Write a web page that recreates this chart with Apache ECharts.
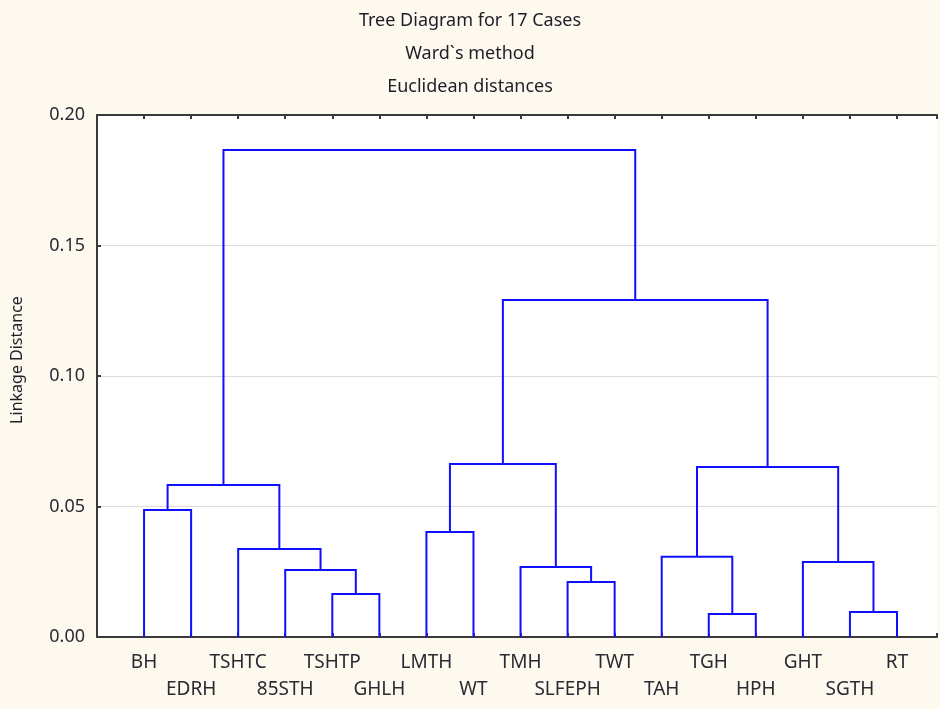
<!DOCTYPE html>
<html>
<head>
<meta charset="utf-8">
<script src="https://cdn.jsdelivr.net/npm/echarts@6/dist/echarts.min.js"></script>
<style>
  html, body { margin: 0; padding: 0; background: #fef9ee; }
  #chart { width: 940px; height: 709px; }
</style>
</head>
<body>
<div id="chart"></div>
<script>
// leaf order as shown on the axis
var leaves = ['BH', 'EDRH', 'TSHTC', '85STH', 'TSHTP', 'GHLH', 'LMTH', 'WT', 'TMH',
  'SLFEPH', 'TWT', 'TAH', 'TGH', 'HPH', 'GHT', 'SGTH', 'RT'];
// merge steps: [node a, node b, linkage distance]; new nodes numbered from 17
var mergeA = [12, 15, 4, 9, 3, 8, 14, 11, 2, 6, 0, 27, 24, 26, 30, 28];
var mergeB = [13, 16, 5, 10, 19, 20, 18, 17, 21, 7, 1, 25, 23, 22, 29, 31];
var mergeH = [0.0088, 0.0096, 0.0165, 0.0211, 0.0257, 0.0268, 0.0287, 0.0307,
  0.0337, 0.0402, 0.0487, 0.0582, 0.0651, 0.0663, 0.1291, 0.1866];
var yTicks = [0, 0.05, 0.10, 0.15, 0.20];

// node positions: leaves at their index, clusters at the midpoint of children
var nodeX = [], nodeY = [];
leaves.forEach(function (n, i) { nodeX.push(i); nodeY.push(0); });
var links = [];
for (var i = 0; i < mergeH.length; i++) {
  var a = mergeA[i], b = mergeB[i];
  links.push([nodeX[a], nodeY[a], nodeX[b], nodeY[b], mergeH[i]]);
  nodeX.push((nodeX[a] + nodeX[b]) / 2);
  nodeY.push(mergeH[i]);
}

var chart = echarts.init(document.getElementById('chart'));
var font = 'Noto Sans, Open Sans, sans-serif';
var axisCol = '#3a3a3a';
var option = {
  backgroundColor: '#fef9ee',
  title: {
    text: 'Tree Diagram for 17 Cases\nWard`s method\nEuclidean distances',
    left: 'center',
    top: -1,
    textStyle: { fontFamily: font, fontSize: 18, fontWeight: 'normal', color: '#1e1e28', lineHeight: 33 }
  },
  grid: {
    left: 97, right: 0, top: 115, bottom: 72,
    show: true, backgroundColor: '#ffffff', borderWidth: 0
  },
  xAxis: [{
    type: 'value', position: 'bottom', min: -1, max: 16.85, interval: 1,
    axisLine: { show: true, onZero: false, lineStyle: { color: axisCol, width: 2 } },
    axisTick: { show: true, inside: true, length: 4, lineStyle: { color: axisCol, width: 2 } },
    splitLine: { show: false },
    axisLabel: {
      margin: 12, fontFamily: font, fontSize: 19, lineHeight: 27, color: '#2a2a35',
      showMinLabel: true, showMaxLabel: true,
      formatter: function (v) {
        var k = Math.round(v);
        if (Math.abs(v - k) > 1e-6 || k < 0 || k >= leaves.length) return '';
        return (k % 2 ? '\n' : '') + leaves[k];
      }
    }
  }, {
    type: 'value', position: 'top', min: -1, max: 16.85, interval: 1,
    axisLine: { show: true, onZero: false, lineStyle: { color: axisCol, width: 2 } },
    axisTick: { show: true, inside: true, length: 4, lineStyle: { color: axisCol, width: 2 } },
    axisLabel: { show: false },
    splitLine: { show: false }
  }],
  yAxis: {
    type: 'value', min: yTicks[0], max: yTicks[yTicks.length - 1], interval: 0.05,
    name: 'Linkage Distance', nameLocation: 'middle', nameGap: 72,
    nameTextStyle: { fontFamily: font, fontSize: 16, color: '#1e1e28', padding: [0, 0, 0, 32] },
    axisLine: { show: true, onZero: false, lineStyle: { color: axisCol, width: 2 } },
    axisTick: { show: true, inside: true, length: 4, lineStyle: { color: axisCol, width: 2 } },
    splitLine: { show: true, lineStyle: { color: '#dcdcdc', width: 1 } },
    axisLabel: {
      margin: 12, fontFamily: font, fontSize: 18, color: '#2a2a35',
      formatter: function (v) { return v.toFixed(2); }
    }
  },
  series: [{
    type: 'custom',
    xAxisIndex: 0,
    data: links,
    encode: { x: [0, 2], y: [1, 3, 4] },
    renderItem: function (params, api) {
      var l = api.coord([api.value(0), api.value(1)]);
      var lt = api.coord([api.value(0), api.value(4)]);
      var rt = api.coord([api.value(2), api.value(4)]);
      var r = api.coord([api.value(2), api.value(3)]);
      return {
        type: 'polyline',
        shape: { points: [l, lt, rt, r] },
        style: { stroke: '#1010ff', lineWidth: 2, fill: null }
      };
    },
    silent: true
  }]
};
chart.setOption(option);
</script>
</body>
</html>
